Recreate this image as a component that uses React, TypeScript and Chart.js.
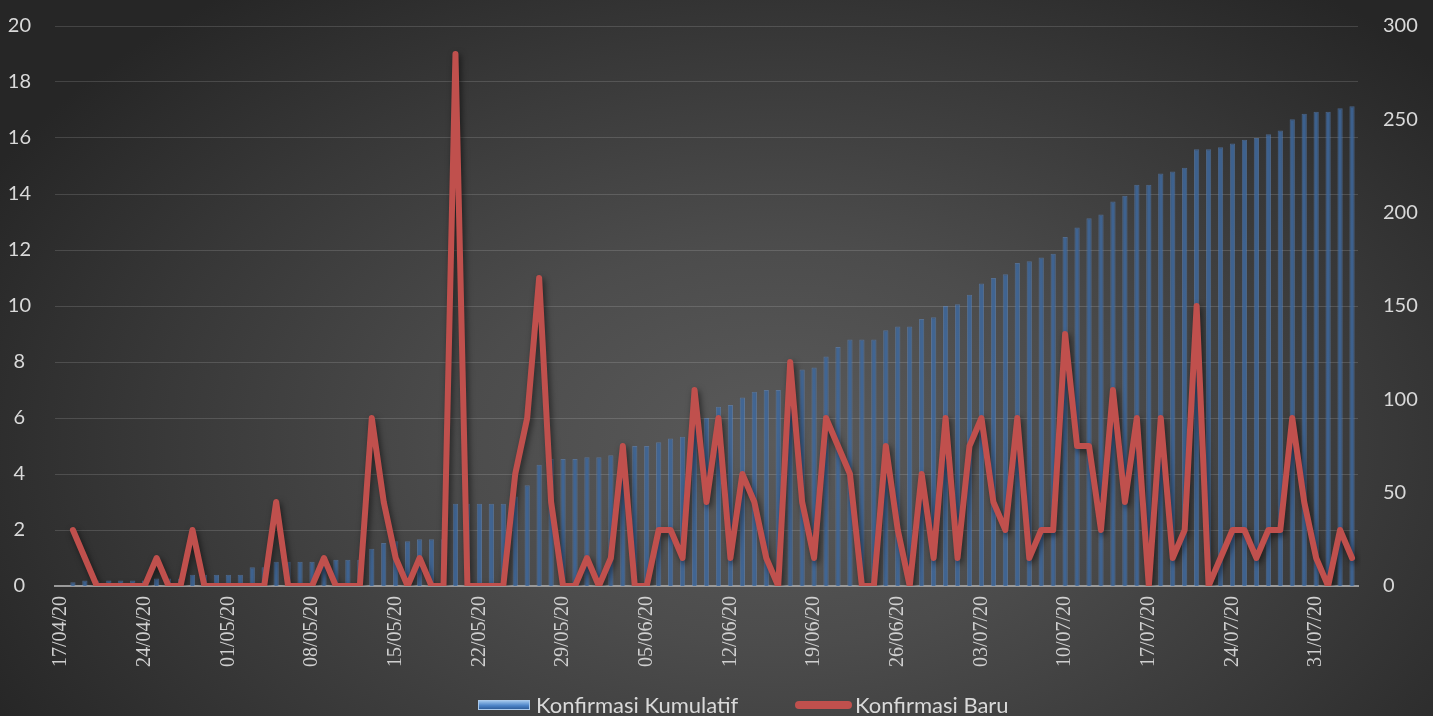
import React, { useEffect, useRef } from "react";
import { Chart, registerables } from "chart.js";

Chart.register(...registerables);

const categories: string[] = [
  "17/04/20", "18/04/20", "19/04/20", "20/04/20", "21/04/20", "22/04/20", "23/04/20", "24/04/20", "25/04/20", "26/04/20", "27/04/20", "28/04/20", "29/04/20", "30/04/20",
  "01/05/20", "02/05/20", "03/05/20", "04/05/20", "05/05/20", "06/05/20", "07/05/20", "08/05/20", "09/05/20", "10/05/20", "11/05/20", "12/05/20", "13/05/20", "14/05/20", "15/05/20", "16/05/20",
  "17/05/20", "18/05/20", "19/05/20", "20/05/20", "21/05/20", "22/05/20", "23/05/20", "24/05/20", "25/05/20", "26/05/20", "27/05/20", "28/05/20", "29/05/20", "30/05/20", "31/05/20",
  "01/06/20", "02/06/20", "03/06/20", "04/06/20", "05/06/20", "06/06/20", "07/06/20", "08/06/20", "09/06/20", "10/06/20", "11/06/20", "12/06/20", "13/06/20", "14/06/20", "15/06/20",
  "16/06/20", "17/06/20", "18/06/20", "19/06/20", "20/06/20", "21/06/20", "22/06/20", "23/06/20", "24/06/20", "25/06/20", "26/06/20", "27/06/20", "28/06/20", "29/06/20", "30/06/20",
  "01/07/20", "02/07/20", "03/07/20", "04/07/20", "05/07/20", "06/07/20", "07/07/20", "08/07/20", "09/07/20", "10/07/20", "11/07/20", "12/07/20", "13/07/20", "14/07/20", "15/07/20", "16/07/20",
  "17/07/20", "18/07/20", "19/07/20", "20/07/20", "21/07/20", "22/07/20", "23/07/20", "24/07/20", "25/07/20", "26/07/20", "27/07/20", "28/07/20", "29/07/20", "30/07/20", "31/07/20",
  "01/08/20", "02/08/20", "03/08/20",
];

// Konfirmasi Baru (left axis)
const newCases: (number | null)[] = [
  null,
  2, 1, 0, 0, 0, 0, 0, 1, 0, 0,
  2, 0, 0, 0, 0, 0, 0, 3, 0, 0,
  0, 1, 0, 0, 0, 6, 3, 1, 0, 1,
  0, 0, 19, 0, 0, 0, 0, 4, 6, 11,
  3, 0, 0, 1, 0, 1, 5, 0, 0, 2,
  2, 1, 7, 3, 6, 1, 4, 3, 1, 0,
  8, 3, 1, 6, 5, 4, 0, 0, 5, 2,
  0, 4, 1, 6, 1, 5, 6, 3, 2, 6,
  1, 2, 2, 9, 5, 5, 2, 7, 3, 6,
  0, 6, 1, 2, 10, 0, 1, 2, 2, 1,
  2, 2, 6, 3, 1, 0, 2, 1,
];

// Konfirmasi Kumulatif (right axis)
const cumulative: (number | null)[] = [
  null,
  2, 3, 3, 3, 3, 3, 3, 4, 4, 4,
  6, 6, 6, 6, 6, 10, 10, 13, 13, 13,
  13, 14, 14, 14, 14, 20, 23, 24, 24, 25,
  25, 25, 44, 44, 44, 44, 44, 48, 54, 65,
  68, 68, 68, 69, 69, 70, 75, 75, 75, 77,
  79, 80, 87, 90, 96, 97, 101, 104, 105, 105,
  113, 116, 117, 123, 128, 132, 132, 132, 137, 139,
  139, 143, 144, 150, 151, 156, 162, 165, 167, 173,
  174, 176, 178, 187, 192, 197, 199, 206, 209, 215,
  215, 221, 222, 224, 234, 234, 235, 237, 239, 240,
  242, 244, 250, 253, 254, 254, 256, 257,
];

const leftMax = 20;
const leftStep = 2;
const rightMax = 300;
const rightStep = 50;

const seriesBarName = "Konfirmasi Kumulatif";
const seriesLineName = "Konfirmasi Baru";

export default function App() {
  const ref = useRef<HTMLCanvasElement>(null);

  useEffect(() => {
    if (!ref.current) return;
    const shadowPlugin = {
      id: "lineShadow",
      beforeDatasetDraw(chart: any, args: any) {
        if (args.index === 0) {
          const ctx = chart.ctx;
          ctx.save();
          ctx.shadowColor = "rgba(0,0,0,0.55)";
          ctx.shadowBlur = 6;
          ctx.shadowOffsetX = 2;
          ctx.shadowOffsetY = 3;
        }
      },
      afterDatasetDraw(chart: any, args: any) {
        if (args.index === 0) chart.ctx.restore();
      },
    };

    const tickColor = "#d9d9d9";
    const chart = new Chart(ref.current, {
      type: "bar",
      data: {
        labels: categories,
        datasets: [
          {
            type: "line",
            label: seriesLineName,
            data: newCases,
            yAxisID: "y",
            borderColor: "#C0504D",
            backgroundColor: "#C0504D",
            borderWidth: 6,
            pointRadius: 0,
            tension: 0,
            borderJoinStyle: "round",
            borderCapStyle: "round",
            order: 0,
          } as any,
          {
            type: "bar",
            label: seriesBarName,
            data: cumulative,
            yAxisID: "y1",
            backgroundColor: "rgba(62,104,158,0.85)",
            borderColor: "rgba(95,140,200,0.55)",
            borderWidth: { left: 1, right: 1, top: 1, bottom: 0 },
            barPercentage: 0.44,
            categoryPercentage: 1,
            order: 1,
          } as any,
        ],
      },
      options: {
        animation: false,
        responsive: false,
        layout: { padding: 0 },
        plugins: {
          legend: { display: false },
          tooltip: { enabled: false },
        },
        scales: {
          x: {
            type: "category",
            offset: true,
            grid: { display: false, drawTicks: false },
            border: { display: true, color: "#9a9a9a", width: 2 },
            ticks: {
              autoSkip: false,
              maxRotation: 90,
              minRotation: 90,
              padding: 10,
              color: "#cfcfcf",
              font: { family: "'Liberation Serif', serif", size: 20 },
              callback: (_v: any, i: number) => (i % 7 === 0 ? categories[i] : ""),
            },
            afterFit: (s: any) => {
              s.height = 130;
              s.paddingLeft = 0;
              s.paddingRight = 0;
            },
          },
          y: {
            position: "left",
            min: 0,
            max: leftMax,
            ticks: {
              stepSize: leftStep,
              color: tickColor,
              font: { family: "Lato", size: 20 },
              padding: 24,
              crossAlign: "center",
            },
            grid: { color: "rgba(255,255,255,0.14)", drawTicks: false },
            border: { display: false },
            afterFit: (s: any) => {
              s.width = 55;
              s.paddingTop = 26;
              s.paddingBottom = 0;
            },
          },
          y1: {
            position: "right",
            min: 0,
            max: rightMax,
            ticks: {
              stepSize: rightStep,
              color: tickColor,
              font: { family: "Lato", size: 20 },
              padding: 25,
            },
            grid: { display: false, drawTicks: false },
            border: { display: false },
            afterFit: (s: any) => {
              s.width = 75;
              s.paddingTop = 26;
              s.paddingBottom = 0;
            },
          },
        },
      } as any,
      plugins: [shadowPlugin],
    });
    return () => chart.destroy();
  }, []);

  const legendText: React.CSSProperties = {
    position: "absolute",
    top: 691,
    fontFamily: "Lato, sans-serif",
    fontSize: 22,
    lineHeight: "27px",
    color: "#d9d9d9",
    whiteSpace: "nowrap",
  };

  return (
    <div
      style={{
        position: "fixed",
        left: 0,
        top: 0,
        width: 1433,
        height: 716,
        overflow: "hidden",
        background:
          "radial-gradient(ellipse 62% 80% at 54% 62%, #5a5a5a 0%, #4c4c4c 35%, #383838 70%, #262626 100%)",
      }}
    >
      <canvas ref={ref} width={1433} height={716} style={{ position: "absolute", left: 0, top: 0, width: 1433, height: 716 }} />
      <div
        style={{
          position: "absolute",
          left: 478,
          top: 700,
          width: 52,
          height: 10,
          boxSizing: "border-box",
          border: "1px solid #a9c8ea",
          background: "linear-gradient(#9cc3ea, #4f86c9 55%, #2f5e9c)",
        }}
      />
      <div style={{ ...legendText, left: 536 }}>{seriesBarName}</div>
      <div
        style={{
          position: "absolute",
          left: 795,
          top: 701,
          width: 57,
          height: 8,
          borderRadius: 4,
          background: "#C0504D",
        }}
      />
      <div style={{ ...legendText, left: 855 }}>{seriesLineName}</div>
    </div>
  );
}
